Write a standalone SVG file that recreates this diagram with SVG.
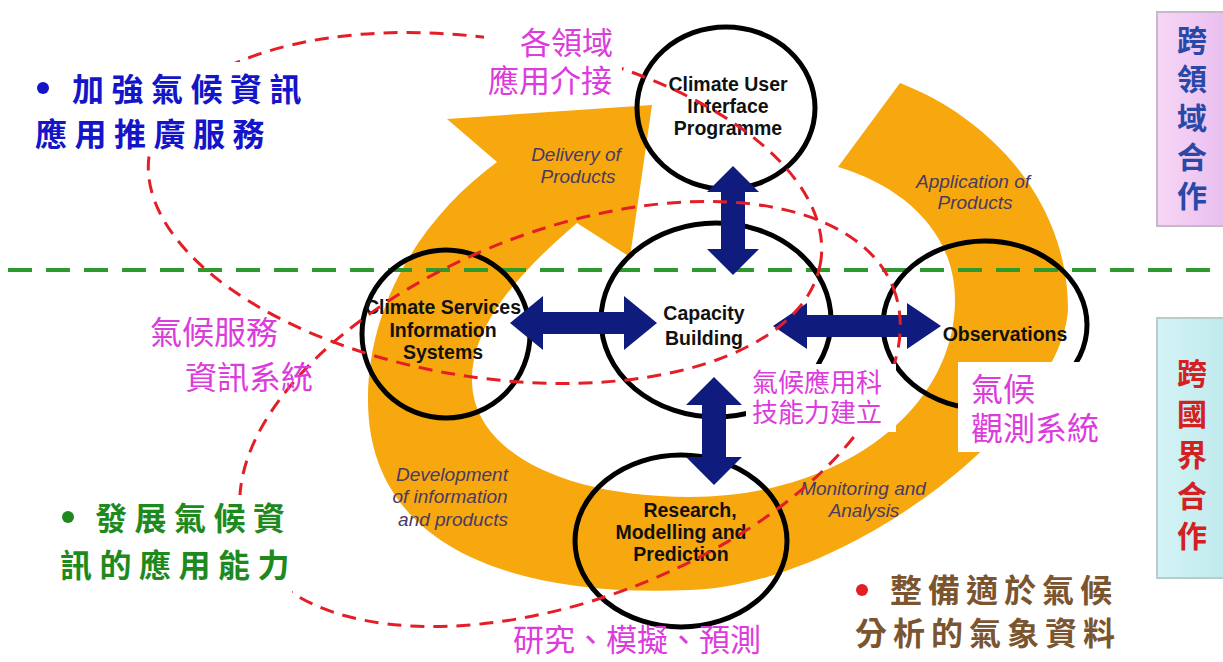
<svg xmlns="http://www.w3.org/2000/svg" width="1223" height="662" viewBox="0 0 1223 662">
<defs>
<linearGradient id="gPink" x1="0" y1="0" x2="1" y2="0"><stop offset="0" stop-color="#f6d6f6"/><stop offset="1" stop-color="#e9bdee"/></linearGradient>
<linearGradient id="gCyan" x1="0" y1="0" x2="1" y2="0"><stop offset="0" stop-color="#d4f4f6"/><stop offset="1" stop-color="#bfe9ec"/></linearGradient>
<style>
.ring{fill:#F6A80E}
.circ{fill:none;stroke:#000;stroke-width:5}
.arr{fill:#0F1C7D}
.red{fill:none;stroke:#E41E26;stroke-width:3;stroke-dasharray:14 9}
.grn{fill:none;stroke:#2E9A2E;stroke-width:4;stroke-dasharray:24 14}
.en{font-family:"Liberation Sans",Arial,sans-serif;font-weight:bold;font-size:19.5px;fill:#111;text-anchor:middle}
.it{font-family:"Liberation Sans",Arial,sans-serif;font-style:italic;font-size:19px;fill:#4a3a62;text-anchor:middle}
.mag{font-family:"Noto Sans CJK TC","Noto Sans CJK SC",sans-serif;fill:#DC3CDC}
.bul{font-family:"Noto Sans CJK TC","Noto Sans CJK SC",sans-serif;font-weight:bold;font-size:32px;letter-spacing:7.5px}
.vt{font-family:"Noto Sans CJK TC","Noto Sans CJK SC",sans-serif;font-weight:bold;font-size:30px;text-anchor:middle}
.wb{fill:#fff}
</style>
</defs>
<rect width="1223" height="662" fill="#fff"/>

<g id="ring">
<path class="ring" d="M900,83 C990,118 1068,200 1068,310 C1060,420 850,585 690,590 C500,598 368,540 368,400 C368,300 425,215 497,162 L447,119 L652,105 L630,257 L577,223 C510,280 472,330 472,380 C472,450 560,497 690,497 C840,497 955,410 955,300 C955,230 900,185 838,167 Z"/>
<text class="it" x="576" y="161">Delivery of</text>
<text class="it" x="578" y="183">Products</text>
<text class="it" x="973" y="188">Application of</text>
<text class="it" x="975" y="209">Products</text>
<text class="it" x="452" y="481">Development</text>
<text class="it" x="450" y="503">of  information</text>
<text class="it" x="453" y="526">and products</text>
<text class="it" x="863" y="495">Monitoring and</text>
<text class="it" x="864" y="517">Analysis</text>
</g>

<line class="grn" x1="8" y1="270" x2="1223" y2="270"/>

<g id="node-user"><ellipse class="circ" cx="726" cy="108" rx="89" ry="81"/>
<text class="en" x="728" y="91">Climate User</text><text class="en" x="728" y="113">Interface</text><text class="en" x="728" y="135">Programme</text></g>
<g id="node-capacity"><ellipse class="circ" cx="716" cy="320" rx="115" ry="97"/>
<text class="en" x="704" y="320">Capacity</text><text class="en" x="704" y="345">Building</text></g>
<g id="node-services"><ellipse class="circ" cx="446" cy="334" rx="84" ry="84"/>
<text class="en" x="443" y="314">Climate Services</text><text class="en" x="443" y="337">Information</text><text class="en" x="443" y="359">Systems</text></g>
<g id="node-obs"><ellipse class="circ" cx="985" cy="325" rx="102" ry="84"/>
<text class="en" x="1005" y="341">Observations</text></g>
<g id="node-research"><ellipse class="circ" cx="681" cy="541" rx="106" ry="86"/>
<text class="en" x="690" y="517">Research,</text><text class="en" x="681" y="539">Modelling and</text><text class="en" x="681" y="561">Prediction</text></g>

<g id="connectors">
<polygon class="arr" points="510,323 543,296 543,312 624,312 624,296 657,323 624,350 624,334 543,334 543,350"/>
<polygon class="arr" points="773,326 807,303 807,315 907,315 907,303 941,326 907,349 907,337 807,337 807,349"/>
<polygon class="arr" points="733,166 759,192 745,192 745,249 759,249 733,275 707,249 721,249 721,192 707,192"/>
<polygon class="arr" points="714,377 742,405 726,405 726,457 742,457 714,485 686,457 702,457 702,405 686,405"/>
<ellipse class="red" cx="485" cy="208" rx="340" ry="169" transform="rotate(9.2 485 208)"/>
<ellipse class="red" cx="570" cy="414" rx="347" ry="184" transform="rotate(-21.2 570 414)"/>
</g>

<g id="label-blue">
<rect class="wb" x="28" y="62" width="284" height="94"/>
<circle cx="43" cy="88" r="6" fill="#1414C8"/>
<text class="bul" x="72" y="101" fill="#1414C8">加強氣候資訊</text>
<text class="bul" x="35" y="146" fill="#1414C8">應用推廣服務</text>
</g>
<g id="label-interface">
<rect class="wb" x="484" y="18" width="138" height="84"/>
<text class="mag" x="520" y="54" font-size="31">各領域</text>
<text class="mag" x="488" y="92" font-size="31">應用介接</text>
</g>
<g id="label-services">
<text class="mag" x="150" y="344" font-size="32">氣候服務</text>
<text class="mag" x="185" y="389" font-size="32">資訊系統</text>
</g>
<g id="label-capacity">
<rect class="wb" x="746" y="364" width="150" height="68"/>
<text class="mag" x="752" y="392" font-size="26">氣候應用科</text>
<text class="mag" x="752" y="422" font-size="26">技能力建立</text>
</g>
<g id="label-obs">
<rect class="wb" x="958" y="362" width="152" height="90"/>
<text class="mag" x="971" y="401" font-size="32">氣候</text>
<text class="mag" x="971" y="440" font-size="32">觀測系統</text>
</g>
<g id="label-green">
<rect class="wb" x="50" y="495" width="242" height="103"/>
<circle cx="68" cy="517" r="6" fill="#1E8A1E"/>
<text class="bul" x="95" y="530" fill="#1E8A1E">發展氣候資</text>
<text class="bul" x="60" y="577" fill="#1E8A1E">訊的應用能力</text>
</g>
<g id="label-research">
<text class="mag" x="513" y="651" font-size="31">研究、模擬、預測</text>
</g>
<g id="label-data">
<circle cx="862" cy="590" r="6" fill="#E41E26"/>
<text class="bul" x="890" y="602" fill="#7A5530" style="letter-spacing:6px">整備適於氣候</text>
<text class="bul" x="855" y="645" fill="#7A5530" style="letter-spacing:6px">分析的氣象資料</text>
</g>

<g id="box-cross-domain">
<rect x="1157" y="12" width="72" height="214" fill="url(#gPink)" stroke="#c9b8c9" stroke-width="2"/>
<text class="vt" fill="#2A48A8"><tspan x="1192" y="51">跨</tspan><tspan x="1192" y="90">領</tspan><tspan x="1192" y="129">域</tspan><tspan x="1192" y="168">合</tspan><tspan x="1192" y="207">作</tspan></text>
</g>
<g id="box-cross-border">
<rect x="1157" y="318" width="72" height="260" fill="url(#gCyan)" stroke="#b8cccc" stroke-width="2"/>
<text class="vt" fill="#D42020"><tspan x="1192" y="384">跨</tspan><tspan x="1192" y="425">國</tspan><tspan x="1192" y="466">界</tspan><tspan x="1192" y="507">合</tspan><tspan x="1192" y="547">作</tspan></text>
</g>
</svg>
